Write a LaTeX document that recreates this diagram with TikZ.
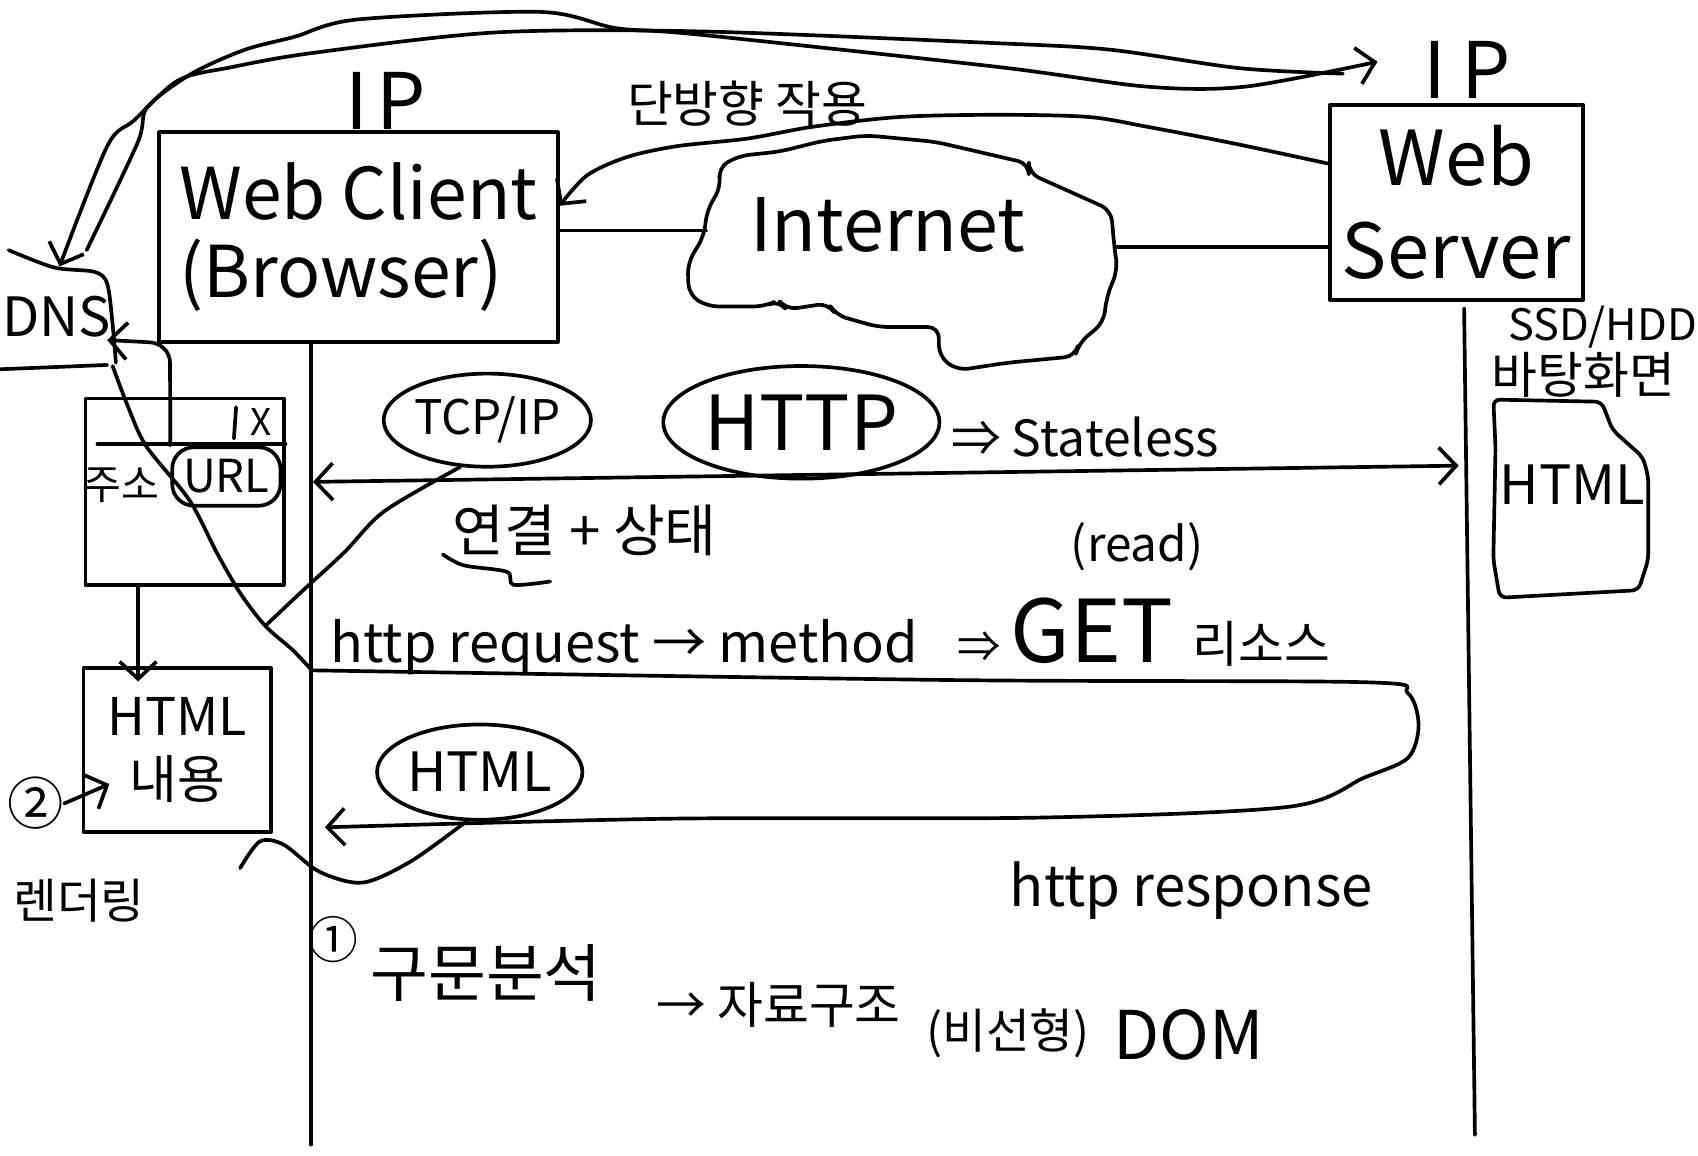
\documentclass[tikz,border=0pt]{standalone}
\usepackage{fontspec}
\setmainfont{Noto Sans CJK KR}
\usetikzlibrary{arrows.meta, positioning, shapes.geometric}

\newcommand{\handsize}[2]{\fontsize{#1}{#2}\selectfont}

\begin{document}
\begin{tikzpicture}[x=1pt, y=-1pt,
    pen/.style={line width=3.4pt, line cap=round, line join=round},
    arr/.style={pen, -{Straight Barb[length=16pt, width=34pt]}},
    biarr/.style={pen, {Straight Barb[length=16pt, width=34pt]}-{Straight Barb[length=16pt, width=34pt]}},
    box/.style={pen, draw, rectangle, inner sep=0pt},
    blob/.style={pen, draw, ellipse, inner sep=0pt},
    note/.style={inner sep=0pt}]
  \fill[white] (0,0) rectangle (1568,1067);
  \useasboundingbox (0,0) rectangle (1568,1067);

  % --- Client, Server, Internet ---
  \node[box, minimum width=368pt, minimum height=194pt, align=left,
        font=\handsize{66}{72}] (client) at (331,219) {Web Client\\(Browser)};
  \node[note, font=\handsize{72}{72}] (clientip) at (356,93) {I\hspace{8pt}P};
  \node[box, minimum width=234pt, minimum height=180pt, align=center,
        font=\handsize{70}{86}] (server) at (1345,187) {Web\\Server};
  \node[note, font=\handsize{72}{72}] (serverip) at (1355,65) {I\hspace{14pt}P};

  \node[note, font=\handsize{68}{68}] (net) at (820,208) {Internet};
  \draw[pen, rounded corners=10pt] (666,172) -- (663,155) -- (682,144) -- (720,140)
    -- (760,130) -- (800,125) -- (864,131) -- (950,151) -- (950,160) -- (1026,194)
    -- (1029,228) -- (1032,249) -- (1022,274) -- (1019,298) -- (996,317) -- (993,329)
    -- (930,335) -- (884,342) -- (867,329) -- (867,302) -- (811,302) -- (772,291)
    -- (765,280) -- (726,286) -- (719,277) -- (706,283) -- (653,283) -- (636,272)
    -- (635,243) -- (650,218) -- (653,194) -- cycle;
  \coordinate (netW) at (652,213);
  \coordinate (netE) at (1031,228);
  \draw[pen] (client.east |- netW) -- (netW);
  \draw[pen] (netE) -- (server.west |- netE);

  % Server -> Client
  \coordinate (srvL) at (server.west |- 0,151);
  \coordinate (cliR) at (client.east |- 0,190);
  \draw[arr] plot[smooth] coordinates {(srvL) (1137,132) (1059,117) (1005,108)
    (923,106) (831,108) (751,117) (690,128) (625,135) (579,145) (542,162) (cliR)};
  \node[note, font=\handsize{46}{46}] (oneway) at (690,96) {단방향 작용};

  % --- DNS ---
  \node[note, font=\handsize{50}{50}, anchor=west] (dns) at (2,292) {DNS};
  \draw[pen] plot[smooth] coordinates {(8,231) (50,247) (87,251) (99,262) (104,300) (107,335)};
  \draw[pen] (0,341) -- (99,337);
  \coordinate (dnsIn) at (55,246);
  \coordinate (dnsOut) at (80,231);
  \coordinate (dnsR) at (99,314);
  \coordinate (ipIn) at (1272,57);
  \coordinate (ipOut) at (1240,68);
  \draw[arr] plot[smooth] coordinates {(ipOut) (1145,63) (1026,46) (923,40) (646,29)
    (457,30) (288,49) (214,62) (165,74) (124,111) (99,135) (dnsIn)};
  \draw[arr] plot[smooth] coordinates {(dnsOut) (127,132) (136,99) (177,68) (226,46)
    (272,34) (330,18) (499,11) (569,26) (646,32) (923,62) (1059,80) (1150,80) (ipIn)};

  % --- Browser window ---
  \node[box, minimum width=183pt, minimum height=172pt] (win) at (170.5,454) {};
  \draw[pen] (90,410) -- (win.east |- 0,410);
  \draw[pen] (218,376) -- (216,405);
  \node[note, font=\handsize{34}{34}] (close) at (241,390) {X};
  \node[note, font=\handsize{38}{38}] (addr) at (112,448) {주소};
  \node[pen, draw, rounded corners=20pt, minimum width=100pt, minimum height=54pt,
        font=\handsize{42}{42}] (url) at (209,440) {URL};
  \draw[arr] (url.north west) -- (157,335) to[out=90, in=0] (137,316) -- (dnsR);

  \node[box, minimum width=173pt, minimum height=151pt, align=center,
        font=\handsize{48}{58}] (html) at (163.5,692.5) {HTML\\내용};
  \draw[arr] ([xshift=-43pt]win.south) -- ([xshift=-36pt, yshift=-14pt]html.north);
  \node[note, font=\handsize{52}{52}] (two) at (33,742) {②};
  \coordinate (htmlIn) at (101,724);
  \draw[arr] (two.east) -- (htmlIn);
  \node[note, font=\handsize{44}{44}] (render) at (73,832) {렌더링};

  % --- Lifelines ---
  \coordinate (clientEnd) at (287,1057);
  \coordinate (serverEnd) at (1362,1048);
  \draw[pen] (client.south -| clientEnd) -- (clientEnd);
  \draw[pen] ([xshift=7pt, yshift=-6pt]server.south) -- (serverEnd);

  % --- TCP/IP, HTTP ---
  \node[blob, minimum width=165pt, minimum height=86pt, font=\handsize{44}{44}] (tcp) at (450,388) {TCP/IP};
  \node[blob, minimum width=255pt, minimum height=104pt, font=\handsize{70}{70}] (http) at (740,390) {HTTP};
  \node[note, font=\handsize{46}{46}, anchor=west] (stateless) at (878,404) {⇒ Stateless};
  \coordinate (cL) at (289,445);
  \coordinate (sR) at (1347,430);
  \draw[biarr] (cL) -- (sR);
  \node[note, font=\handsize{52}{52}] (state) at (540,490) {연결 + 상태};
  \draw[pen] plot[smooth] coordinates {(409,512) (428,522) (468,528) (474,540) (508,537)};

  % --- request / response ---
  \node[note, font=\handsize{44}{44}] (read) at (1050,505) {(read)};
  \node[note, anchor=base west] (get) at (884,612)
    {{\handsize{40}{40}⇒ }{\handsize{80}{80}GET }{\handsize{46}{46}리소스}};
  \node[note, anchor=base west, font=\handsize{50}{50}] (req) at (305,612) {http request → method};
  \coordinate (reqStart) at (288,619);
  \coordinate (respEnd) at (300,764);
  \draw[arr] plot[smooth, tension=0.5] coordinates {(reqStart) (880,628) (1260,630)
    (1300,640) (1310,670) (1300,700) (1260,718) (1190,745) (960,755) (619,756) (respEnd)};
  \node[blob, minimum width=172pt, minimum height=88pt, font=\handsize{50}{50}] (htmlmsg) at (443,713) {HTML};
  \draw[pen] plot[smooth] coordinates {(htmlmsg.-105) (380,795) (335,815) (295,805)
    (262,780) (240,777) ([xshift=-30pt, yshift=-32pt]html.south east)};
  \node[note, font=\handsize{52}{52}] (resp) at (1100,822) {http response};

  \coordinate (meet) at (245,578);
  \draw[pen] plot[smooth] coordinates {(104,338) (118,375) (135,412) (175,462)
    (200,510) (222,548) (meet) (270,600) (reqStart)};
  \draw[pen] plot[smooth] coordinates {(tcp.-120) (355,472) (318,510) (280,545) (meet)};

  % --- parsing ---
  \node[note, font=\handsize{46}{46}] (one) at (308,868) {①};
  \node[note, anchor=base west, font=\handsize{58}{58}] (parse) at (342,920) {구문분석};
  \node[note, anchor=base west, font=\handsize{46}{46}] (tree) at (606,945) {→ 자료구조};
  \node[note, anchor=base west, font=\handsize{44}{44}] (nonlin) at (855,968) {(비선형)};
  \node[note, anchor=base west, font=\handsize{62}{62}] (dom) at (1028,978) {DOM};

  % --- server side page ---
  \node[note, font=\handsize{50}{50}] (page) at (1452,448) {HTML};
  \draw[pen, rounded corners=6pt] (1381,413) -- (1379,369) -- (1479,371) -- (1489,397)
    -- (1517,422) -- (1522,440) -- (1522,517) -- (1513,545) -- (1385,552) -- (1379,517) -- cycle;
  \node[note, anchor=base west, font=\handsize{40}{40}] (disk) at (1393,314) {SSD/HDD};
  \node[note, font=\handsize{46}{46}] (desk) at (1462,346) {바탕화면};
\end{tikzpicture}
\end{document}
